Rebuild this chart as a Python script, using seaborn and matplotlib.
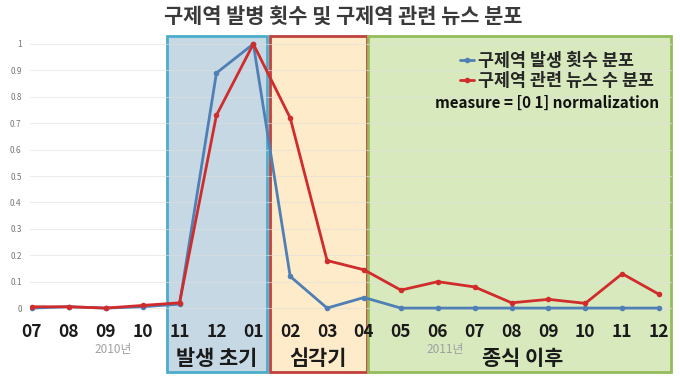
import numpy as np
import pandas as pd
import matplotlib
matplotlib.use('Agg')
import matplotlib.pyplot as plt
import seaborn as sns
from matplotlib.patches import Rectangle

# --- data ---------------------------------------------------------------
months = ['07', '08', '09', '10', '11', '12', '01', '02', '03',
          '04', '05', '06', '07', '08', '09', '10', '11', '12']
outbreak = [0.0, 0.005, 0.0, 0.005, 0.015, 0.89, 1.0, 0.12, 0.0,
            0.04, 0.0, 0.0, 0.0, 0.0, 0.0, 0.0, 0.0, 0.0]
news = [0.005, 0.005, 0.0, 0.01, 0.02, 0.73, 1.0, 0.72, 0.18,
        0.145, 0.068, 0.10, 0.08, 0.02, 0.033, 0.018, 0.13, 0.052]
series_names = ['구제역 발생 횟수 분포', '구제역 관련 뉴스 수 분포']
phase_names = ['발생 초기', '심각기', '종식 이후']
year_labels = ['2010년', '2011년']

# --- style --------------------------------------------------------------
sns.set_style('white')
plt.rcParams['font.family'] = ['Noto Sans CJK KR', 'DejaVu Sans']

df = pd.DataFrame({
    'x': list(range(len(months))) * 2,
    'value': outbreak + news,
    'series': [series_names[0]] * len(months) + [series_names[1]] * len(months),
})

fig = plt.figure(figsize=(6.8, 3.8), dpi=100)
ax = fig.add_axes([30 / 680, 64 / 380, 642 / 680, 281 / 380])

# phase boxes (extend below the axes, behind the tick labels)
phase_spans = [(3.66, 6.37), (6.45, 9.08), (9.1, 17.32)]
phase_fill = ['#c5d8e4', '#fdebc9', '#d8e9bd']
phase_edge = ['#4badcb', '#c0413d', '#94bb5c']
box_bottom, box_top = -0.242, 1.03
for (x0, x1), fc, ec in zip(phase_spans, phase_fill, phase_edge):
    ax.add_patch(Rectangle((x0, box_bottom), x1 - x0, box_top - box_bottom,
                           facecolor=fc, edgecolor=ec, lw=2,
                           clip_on=False, zorder=0.2))

sns.lineplot(data=df, x='x', y='value', hue='series', ax=ax,
             palette=['#4f7fb5', '#d02c2c'], marker='o', markersize=4,
             markeredgewidth=0, linewidth=2, zorder=3)

ax.set_xlim(-0.054, 17.35)
ax.set_ylim(-0.03, 1.034)
ax.set_yticks(np.arange(0, 1.01, 0.1))
ax.set_yticklabels(['0'] + [f'{v:.1f}' for v in np.arange(0.1, 0.95, 0.1)] + ['1'],
                   fontsize=6, color='#777777')
ax.set_xticks(range(len(months)))
ax.set_xticklabels(months, fontsize=12.5, fontweight='bold', color='#1a1a1a')
ax.tick_params(axis='both', length=0)
ax.tick_params(axis='x', pad=5)
ax.tick_params(axis='y', pad=6)
ax.grid(axis='y', color='#e0e0e0', lw=0.8, alpha=0.6)
ax.set_axisbelow(True)
for s in ax.spines.values():
    s.set_visible(False)
ax.set_xlabel('')
ax.set_ylabel('')

# year labels and phase labels
for x, lab in zip([2.2, 11.2], year_labels):
    ax.text(x, -0.155, lab, ha='center', va='center', fontsize=8.5,
            color='#a0a0a0', clip_on=False)
for (x0, x1), lab in zip(phase_spans, phase_names):
    ax.text((x0 + x1) / 2 + (0.1 if lab == '종식 이후' else 0), -0.19, lab,
            ha='center', va='center', fontsize=15, fontweight='bold',
            color='#1a1a1a', clip_on=False)

leg = ax.legend(loc='upper right', bbox_to_anchor=(0.985, 0.97), frameon=False,
                prop={'weight': 'bold', 'size': 12.5}, handlelength=0.8,
                handletextpad=0.2, labelspacing=0.12, borderpad=0)
ax.text(0.98, 0.76, 'measure = [0 1] normalization', transform=ax.transAxes,
        ha='right', va='center', fontsize=11, fontweight='bold', color='#111111')

fig.suptitle('구제역 발병 횟수 및 구제역 관련 뉴스 분포', x=0.505, y=0.985,
             fontsize=15, fontweight='bold', color='#3a3a3a')

fig.savefig('out.png', dpi=100, facecolor='white')
plt.close()
